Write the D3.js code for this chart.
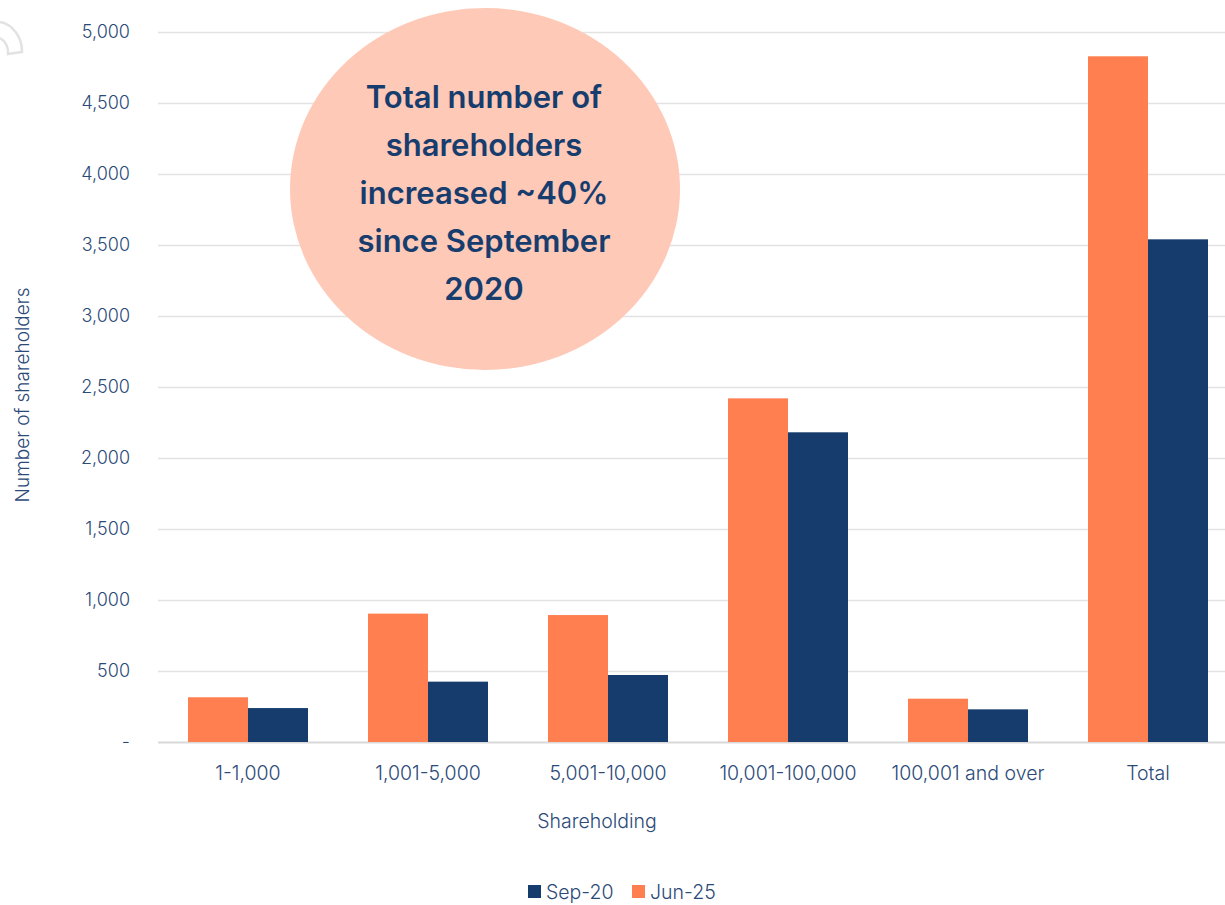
<!DOCTYPE html>
<html><head><meta charset="utf-8">
<script src="https://cdn.jsdelivr.net/npm/d3@7"></script>
<style>body{margin:0;background:#fff}svg{display:block}text{font-family:Inter,"Open Sans",sans-serif}</style>
</head><body>
<svg id="c" width="1225" height="905"></svg>
<script>
const categories = ["1-1,000","1,001-5,000","5,001-10,000","10,001-100,000","100,001 and over","Total"];
const seriesNames = ["Jun-25","Sep-20"];
const jun25 = [315, 904, 894, 2420, 305, 4829];
const sep20 = [239, 425, 472, 2181, 230, 3540];
const yTicks = [0,500,1000,1500,2000,2500,3000,3500,4000,4500,5000];
const calloutLines = ["Total number of","shareholders","increased ~40%","since September","2020"];
const legendItems = ["Sep-20","Jun-25"];

const colors = {"Jun-25":"#ff7f50","Sep-20":"#163c6e"};
const textCol = "#2c4a78";
const svg = d3.select("#c");
const m = {l:158, r:1238, t:32, b:742};

const x = d3.scaleBand().domain(categories).range([m.l, m.r]).paddingInner(1/3).paddingOuter(1/6);
const xs = d3.scaleBand().domain(seriesNames).range([0, x.bandwidth()]);
const y = d3.scaleLinear().domain([0,5000]).range([m.b, m.t]);

// decoration top-left
svg.append("path")
  .attr("d","M0,22 A26,30 0 0 1 22,52 L8,54 A14,16 0 0 0 0,38")
  .attr("fill","none").attr("stroke","#e2e2e2").attr("stroke-width",2.5);

// grid
const ya = svg.append("g").attr("transform",`translate(${m.l},0)`)
  .call(d3.axisLeft(y).tickValues(yTicks).tickSize(-(m.r-m.l)).tickPadding(28)
    .tickFormat(d => d===0 ? "-" : d3.format(",")(d)));
ya.select(".domain").remove();
ya.selectAll(".tick line").attr("stroke","#e3e3e3").attr("stroke-width",1.5);
ya.selectAll(".tick text").attr("fill",textCol).attr("font-size",18).attr("font-weight",300);
ya.selectAll(".tick").filter(d=>d===0).select("line").attr("stroke","#d9d9d9").attr("stroke-width",2);

// bars
const data = categories.map((c,i)=>({c, vals:[{s:"Jun-25",v:jun25[i]},{s:"Sep-20",v:sep20[i]}]}));
const g = svg.append("g").selectAll("g").data(data).join("g")
  .attr("transform", d=>`translate(${x(d.c)},0)`);
g.selectAll("rect").data(d=>d.vals).join("rect")
  .attr("x", d=>xs(d.s)).attr("width", xs.bandwidth())
  .attr("y", d=>y(d.v)).attr("height", d=>y(0)-y(d.v))
  .attr("fill", d=>colors[d.s]);

// x axis labels
const xa = svg.append("g").attr("transform",`translate(0,${m.b})`)
  .call(d3.axisBottom(x).tickSize(0).tickPadding(24));
xa.select(".domain").remove();
xa.selectAll(".tick text").attr("fill",textCol).attr("font-size",19.5).attr("font-weight",300);

// axis titles
svg.append("text").attr("x",597).attr("y",828).attr("text-anchor","middle")
  .attr("fill",textCol).attr("font-size",19.5).attr("font-weight",300).text("Shareholding");
svg.append("text").attr("transform","translate(29,395) rotate(-90)").attr("text-anchor","middle")
  .attr("fill",textCol).attr("font-size",19).attr("font-weight",300).text("Number of shareholders");

// callout
svg.append("ellipse").attr("cx",485).attr("cy",189).attr("rx",195).attr("ry",181).attr("fill","#fec9b7");
svg.append("g").selectAll("text").data(calloutLines).join("text")
  .attr("x",484).attr("y",(d,i)=>108+i*48).attr("text-anchor","middle")
  .attr("fill","#173d6e").attr("font-size",31).attr("font-weight",600).text(d=>d);

// legend
const lg = svg.append("g").selectAll("g").data(legendItems).join("g")
  .attr("transform",(d,i)=>`translate(${528+i*104},885)`);
lg.append("rect").attr("width",13).attr("height",13).attr("fill",d=>colors[d]);
lg.append("text").attr("x",18).attr("y",14).attr("fill",textCol).attr("font-size",19.5).attr("font-weight",300).text(d=>d);
</script>
</body></html>
